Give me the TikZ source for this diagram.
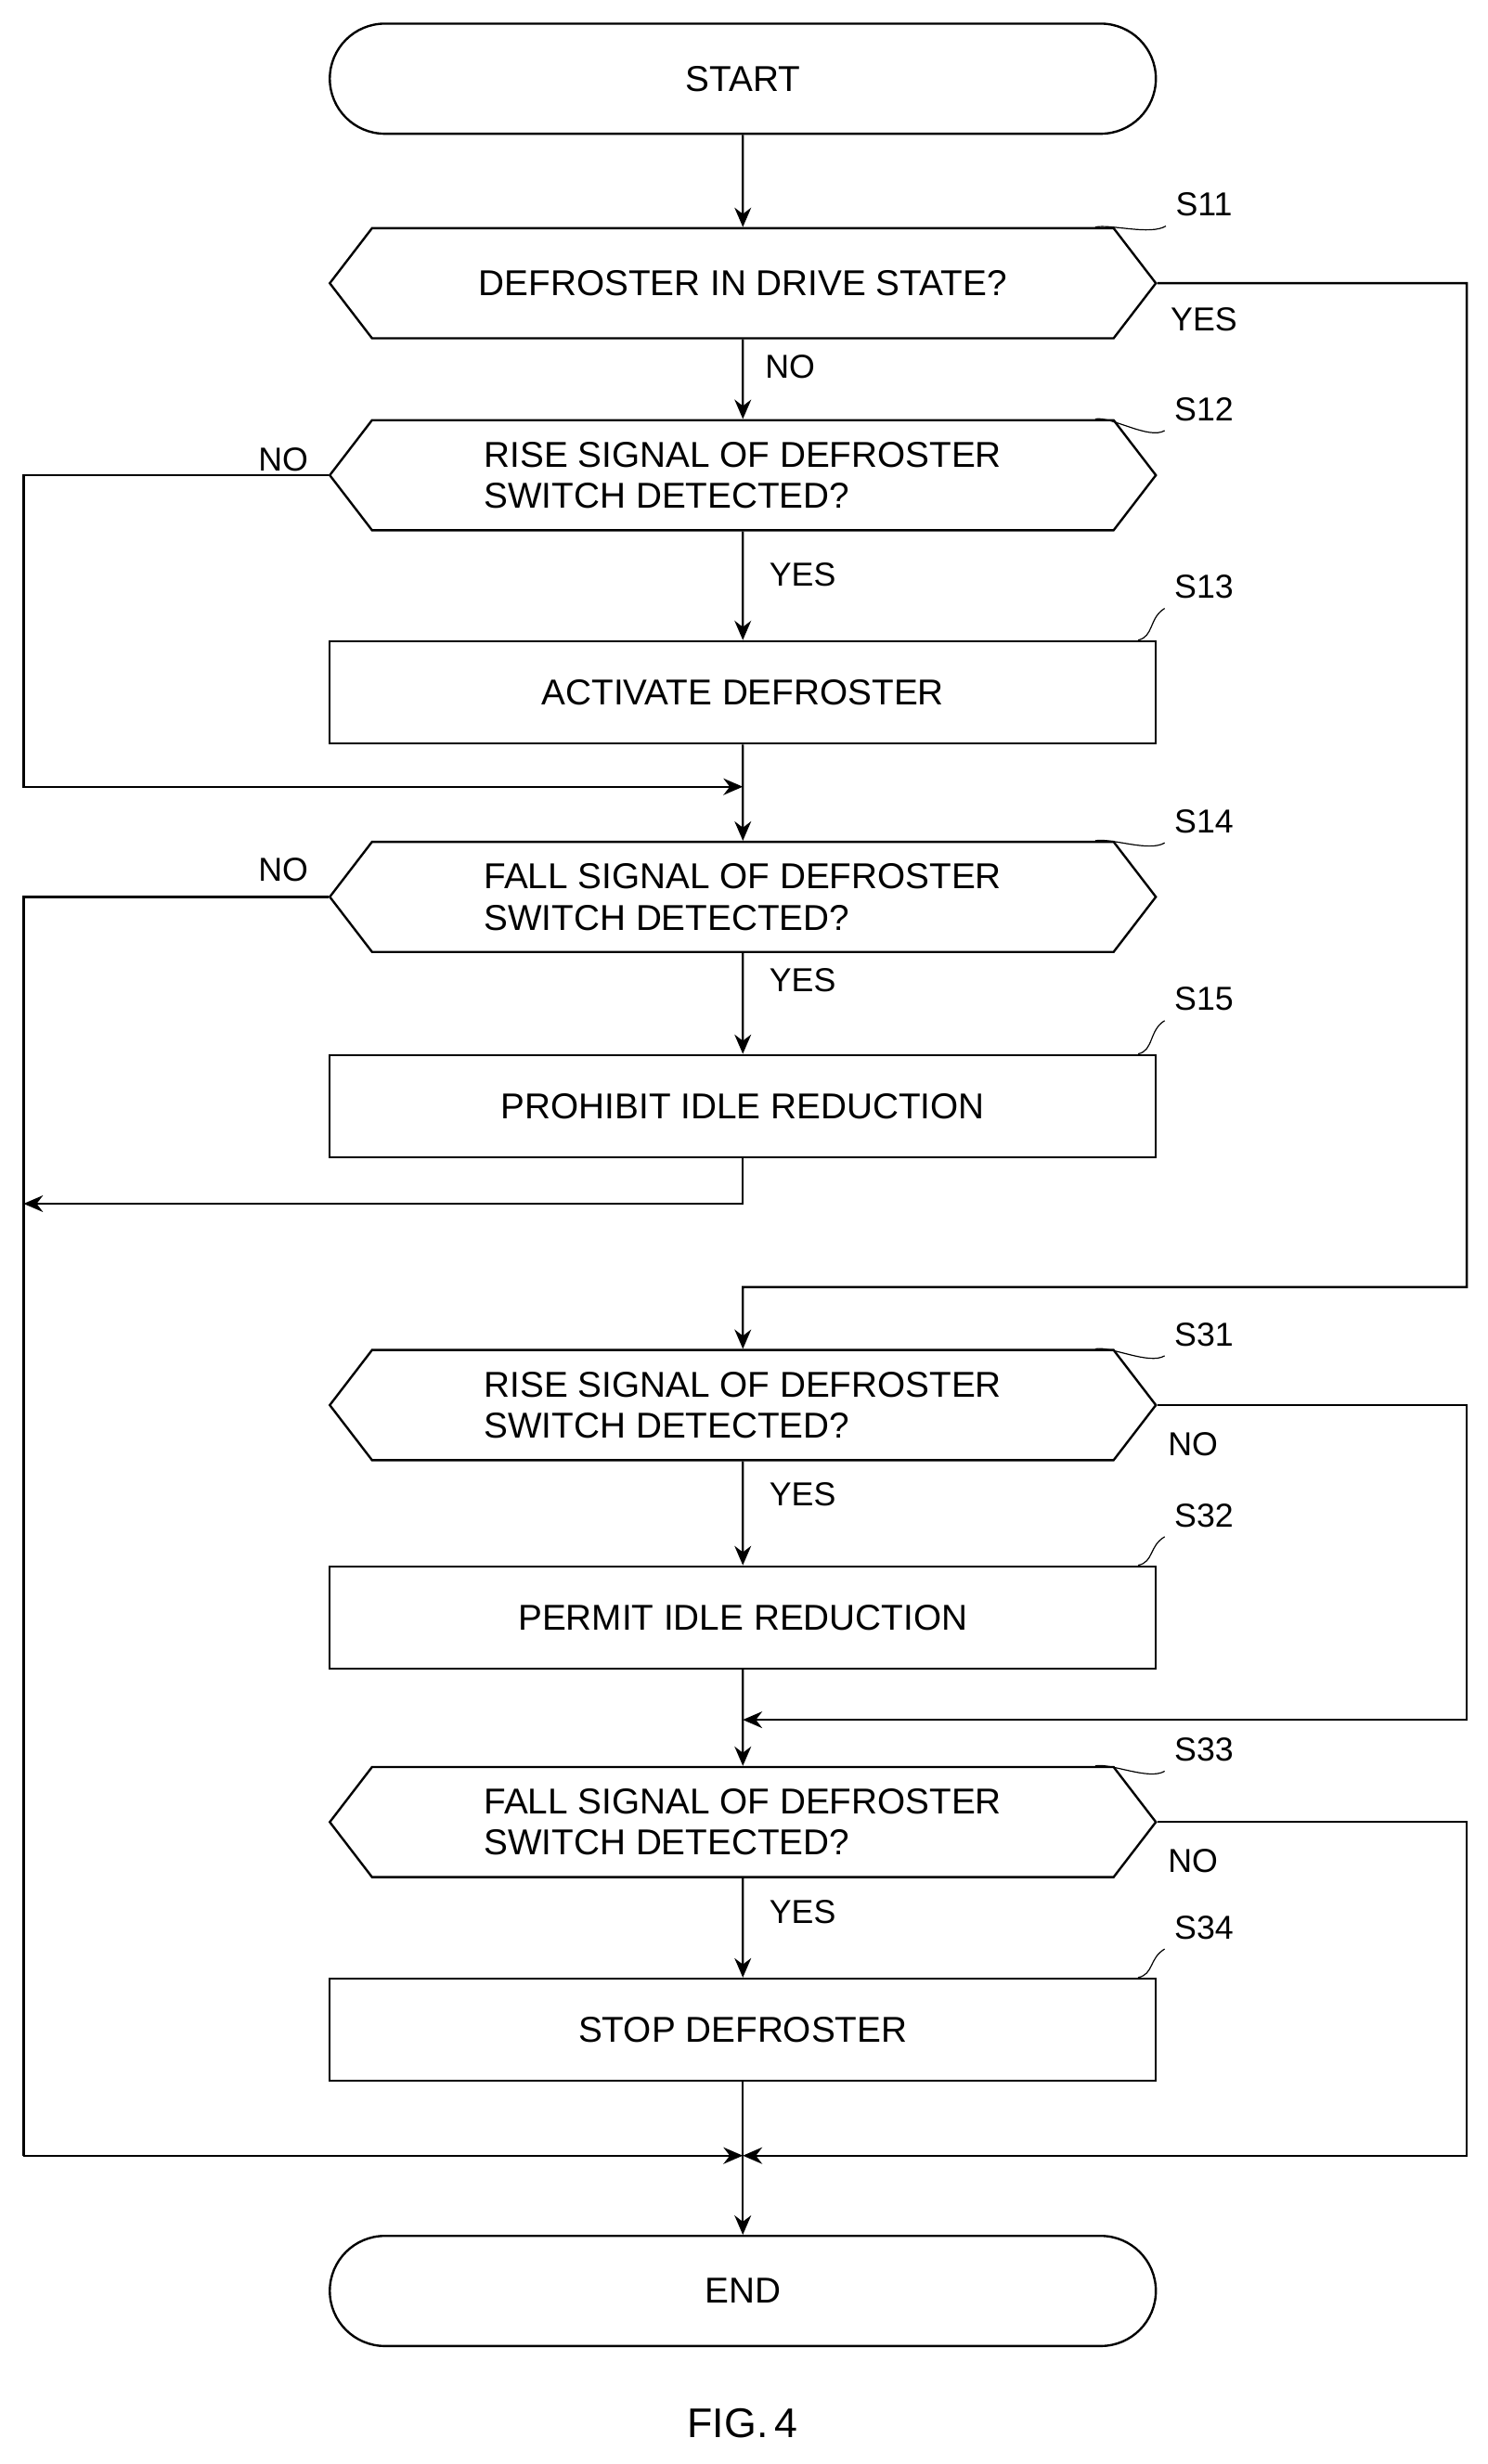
\documentclass[tikz,border=0pt]{standalone}
\usepackage{fontspec}
\setmainfont{Liberation Sans}
\usetikzlibrary{shapes.symbols,arrows.meta}
\tikzset{
  box/.style={draw,thick,minimum width=10.5cm,minimum height=1.3cm,font=\fontsize{13}{15}\selectfont},
  term/.style={box,rounded corners=0.7cm,minimum height=1.4cm},
  test/.style={draw,thick,shape=signal,signal to=east and west,signal pointer angle=105,
    minimum width=10.5cm,minimum height=1.4cm,font=\fontsize{13}{15}\selectfont},
  lbl/.style={font=\fontsize{12}{14}\selectfont},
  flow/.style={thick,-{Stealth[length=7pt,width=6pt]}}
}
\begin{document}
\begin{tikzpicture}[x=0.02cm,y=-0.02cm]
\useasboundingbox (0,0) rectangle (945,1566);

\node[term] (start) at (472,50) {START};
\node[test] (s11) at (472,180) {DEFROSTER IN DRIVE STATE?};
\node[test,align=left] (s12) at (472,302) {RISE SIGNAL OF DEFROSTER\\SWITCH DETECTED?};
\node[box] (s13) at (472,440) {ACTIVATE DEFROSTER};
\node[test,align=left] (s14) at (472,570) {FALL SIGNAL OF DEFROSTER\\SWITCH DETECTED?};
\node[box] (s15) at (472,703) {PROHIBIT IDLE REDUCTION};
\node[test,align=left] (s31) at (472,893) {RISE SIGNAL OF DEFROSTER\\SWITCH DETECTED?};
\node[box] (s32) at (472,1028) {PERMIT IDLE REDUCTION};
\node[test,align=left] (s33) at (472,1158) {FALL SIGNAL OF DEFROSTER\\SWITCH DETECTED?};
\node[box] (s34) at (472,1290) {STOP DEFROSTER};
\node[term] (end) at (472,1456) {END};
\node[font=\fontsize{15}{17}\selectfont] (fig) at (472,1540) {FIG.\,4};

% step labels
\foreach \s/\y in {s11/130,s12/260,s13/373,s14/522,s15/635,s31/848,s32/963,s33/1112,s34/1225} {
  \node[lbl] (l\s) at (765,\y) {\MakeUppercase{\s}};
  \draw[thin] (\s.north east) ++(-12,0) .. controls +(10,-2) and +(-10,6) .. (l\s.south west);
}

% yes / no
\node[lbl] at (765,203) {YES};
\node[lbl] at (502,233) {NO};
\node[lbl] at (180,292) {NO};
\node[lbl] at (510,365) {YES};
\node[lbl] at (180,553) {NO};
\node[lbl] at (510,623) {YES};
\node[lbl] at (758,918) {NO};
\node[lbl] at (510,950) {YES};
\node[lbl] at (758,1183) {NO};
\node[lbl] at (510,1215) {YES};

\coordinate (m1) at (472,500);
\coordinate (m2) at (472,1093);
\coordinate (m3) at (472,1370);

\draw[flow] (start) -- (s11);
\draw[flow] (s11) -- (s12);
\draw[flow] (s12) -- (s13);
\draw[flow] (s13) -- (s14);
\draw[flow] (s12.west) -- (15,302) -- (15,500) -- (m1);
\draw[flow] (s14) -- (s15);
\draw[flow] (s15) -- (472,765) -- (15,765);
\draw[thick] (s14.west) -- (15,570) -- (15,1370);
\draw[flow] (15,1370) -- (m3);
\draw[flow] (s11.east) -- (932,180) -- (932,818) -- (472,818) -- (s31);
\draw[flow] (s31) -- (s32);
\draw[flow] (s32) -- (s33);
\draw[flow] (s31.east) -- (932,893) -- (932,1093) -- (m2);
\draw[flow] (s33) -- (s34);
\draw[flow] (s33.east) -- (932,1158) -- (932,1370) -- (m3);
\draw[thick] (s34) -- (m3);
\draw[flow] (m3) -- (end);
\end{tikzpicture}
\end{document}
